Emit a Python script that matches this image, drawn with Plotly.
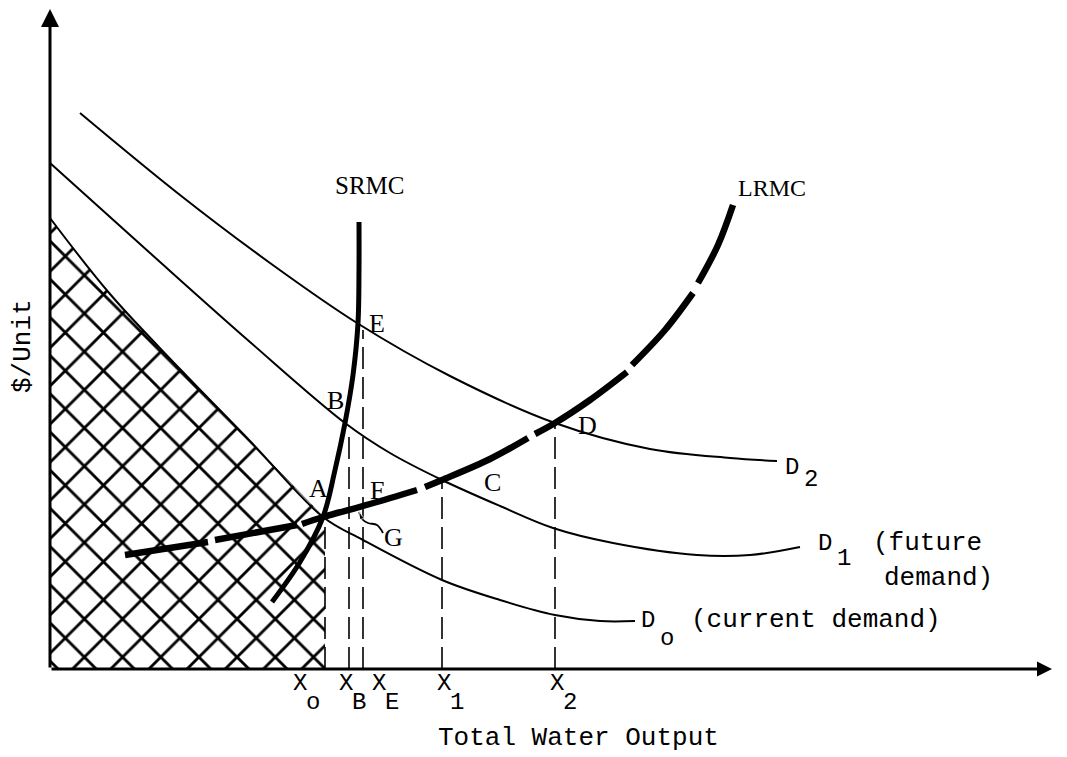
import plotly.graph_objects as go

# ---- data (x = total water output, y = $/unit; origin at the axes' corner) ----
D0_x = [0, 60, 130, 200, 273, 313, 392, 450, 505, 550, 585]
D0_y = [451, 375, 300, 228, 152, 129, 89, 69, 54, 48, 48]

D1_x = [0, 100, 200, 295, 340, 392, 450, 503, 563, 647, 700, 750]
D1_y = [506, 416, 327, 246, 216, 189, 163, 141, 126, 114, 114, 122]

D2_x = [30, 130, 220, 307, 400, 505, 600, 680, 727]
D2_y = [556, 474, 406, 346, 293, 246, 220, 211, 208]

SRMC_x = [309, 309, 308, 303, 295, 285, 273, 250, 222]
SRMC_y = [447, 399, 346, 294, 246, 199, 152, 107, 67]

# LRMC drawn as a broken (long-dash) curve: None marks a gap in the stroke
LRMC_x = [75, 158, None, 165, 247, None, 252, 273, 320, 367, None, 375, 392, 440, 478, None,
          485, 505, 540, 577, None, 582, 615, 643, None, 648, 668, 683]
LRMC_y = [114, 127, None, 129, 144, None, 145, 152, 165, 179, None, 182, 189, 210, 231, None,
          235, 246, 269, 297, None, 304, 339, 376, None, 386, 424, 464]

# quantities on the output axis and the height each drop line reaches
Q_names = ["o", "B", "E", "1", "2"]
Q_x = [275, 299, 313, 392, 505]
Q_top = [151, 239, 339, 189, 246]
Q_label_x = [250, 296, 329, 394, 507]

# point labels
P_names = ["E", "B", "A", "F", "G", "C", "D"]
P_x = [327, 285, 268, 327, 343, 442, 537]
P_y = [346, 269, 181, 179, 132, 187, 244]

# small curly pointer from G
G_arrow_x = [333, 327, 318, 312, 309]
G_arrow_y = [136, 144, 146, 150, 157]

X_MAX = 1002
Y_MAX = 660

SERIF = "Liberation Serif"
MONO = "Liberation Mono"

fig = go.Figure()

# hatched region under current demand up to X_o
hatch_x = [0] + D0_x[:5] + [Q_x[0], Q_x[0], 0]
hatch_y = [0] + D0_y[:5] + [151, 0, 0]
fig.add_trace(go.Scatter(
    x=hatch_x, y=hatch_y, mode="lines", fill="toself",
    line=dict(width=0, color="rgba(0,0,0,0)"),
    fillcolor="white",
    fillpattern=dict(shape="x", size=27, solidity=0.2, fgcolor="black", fgopacity=1,
                     bgcolor="white", fillmode="replace"),
    hoverinfo="skip"))

# drop lines
for qx, qt in zip(Q_x, Q_top):
    fig.add_trace(go.Scatter(x=[qx, qx], y=[0, qt], mode="lines",
                             line=dict(color="black", width=1.6, dash="22px,8px"),
                             hoverinfo="skip"))

# demand curves
for xs, ys in [(D0_x, D0_y), (D1_x, D1_y), (D2_x, D2_y)]:
    fig.add_trace(go.Scatter(x=xs, y=ys, mode="lines",
                             line=dict(color="black", width=2, shape="spline", smoothing=1),
                             hoverinfo="skip"))

# SRMC
fig.add_trace(go.Scatter(x=SRMC_x, y=SRMC_y, mode="lines",
                         line=dict(color="black", width=5, shape="spline", smoothing=1),
                         hoverinfo="skip"))
# LRMC
fig.add_trace(go.Scatter(x=LRMC_x, y=LRMC_y, mode="lines", connectgaps=False,
                         line=dict(color="black", width=6.5, shape="spline", smoothing=1),
                         hoverinfo="skip"))

# G pointer
fig.add_trace(go.Scatter(x=G_arrow_x, y=G_arrow_y, mode="lines+markers",
                         line=dict(color="black", width=1.8, shape="spline"),
                         marker=dict(symbol=["circle"] * 4 + ["arrow"], size=[0, 0, 0, 0, 8],
                                     angleref="previous", color="black"),
                         hoverinfo="skip"))

ann = []
# axes with arrow heads
ann.append(dict(x=0, y=Y_MAX, ax=0, ay=0, xref="x", yref="y", axref="x", ayref="y",
                text="", showarrow=True, arrowhead=2, arrowsize=1.2, arrowwidth=3,
                arrowcolor="black", standoff=0, startstandoff=0))
ann.append(dict(x=X_MAX, y=0, ax=0, ay=0, xref="x", yref="y", axref="x", ayref="y",
                text="", showarrow=True, arrowhead=2, arrowsize=1.0, arrowwidth=3,
                arrowcolor="black", standoff=0, startstandoff=0))

def txt(x, y, s, font, size, **kw):
    d = dict(x=x, y=y, xref="x", yref="y", text=s, showarrow=False,
             font=dict(family=font, size=size, color="black"),
             xanchor="center", yanchor="middle")
    d.update(kw)
    ann.append(d)

# curve names
txt(319, 484, "SRMC", SERIF, 25)
txt(722, 481, "LRMC", SERIF, 24)
for n, px_, py_ in zip(P_names, P_x, P_y):
    txt(px_, py_, n, SERIF, 26)

# quantity labels (typewriter style with dropped subscripts)
for n, qx in zip(Q_names, Q_label_x):
    txt(qx, -14, "X", MONO, 24)
    txt(qx + 13, -33, n, MONO, 24)

txt(528, -69, "Total Water Output", MONO, 26)
txt(-27, 323, "$/Unit", MONO, 26, textangle=-90)

txt(742, 202, "D", MONO, 24)
txt(761, 190, "2", MONO, 24)
txt(775, 126, "D", MONO, 24)
txt(794, 111, "1", MONO, 24)
txt(877, 126, "(future", MONO, 26)
txt(888, 91, "demand)", MONO, 26)
txt(598, 49, "D", MONO, 24)
txt(617, 31, "o", MONO, 24)
txt(766, 49, "(current demand)", MONO, 26)

# page body adds an 8px offset; ranges are set so the drawing lands where the original sits
fig.update_layout(
    width=1067, height=757,
    margin=dict(l=0, r=0, t=0, b=0),
    paper_bgcolor="white", plot_bgcolor="white",
    showlegend=False,
    xaxis=dict(range=[-42, 1025], visible=False, fixedrange=True),
    yaxis=dict(range=[-96, 661], visible=False, fixedrange=True),
    annotations=ann,
)

fig.write_html("out.html")
